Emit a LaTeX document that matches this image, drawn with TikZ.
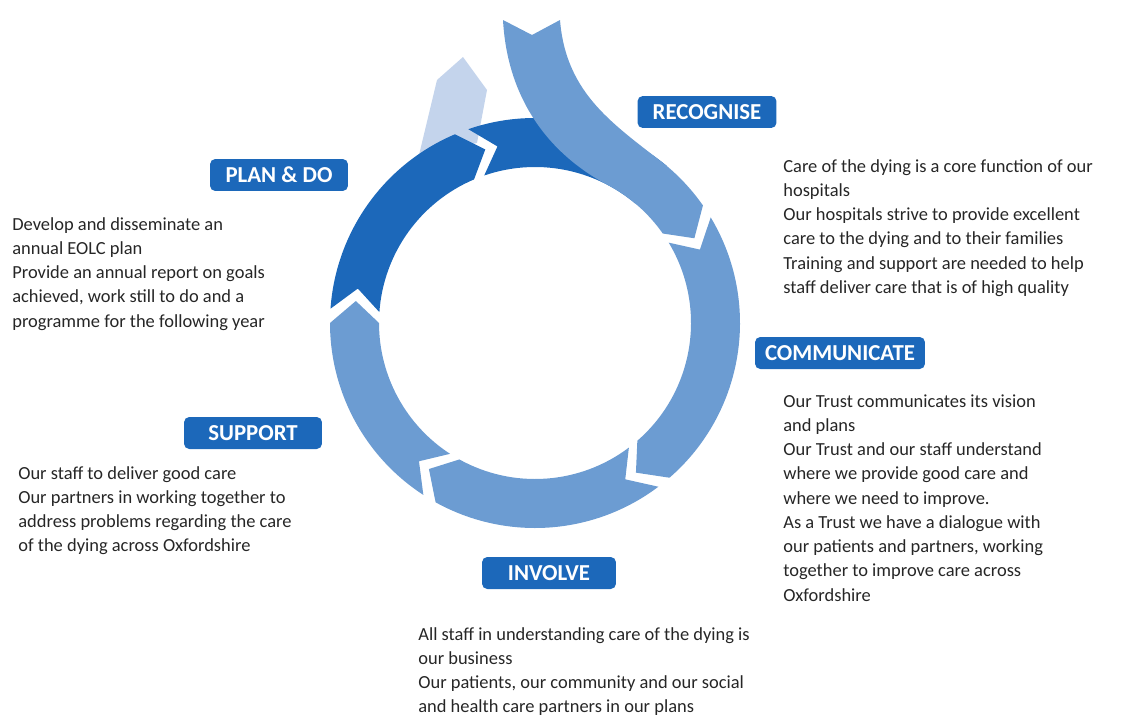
\documentclass[tikz,border=0pt]{standalone}
\usepackage{fontspec}
\setmainfont{Carlito}
\definecolor{darkb}{RGB}{28,104,186}
\definecolor{midb}{RGB}{108,156,210}
\definecolor{paleb}{RGB}{196,212,236}
\tikzset{
  lbl/.style={fill=darkb,rounded corners=3pt,text=white,inner sep=0pt,
    minimum height=0.64cm,font=\bfseries\fontsize{13}{15}\selectfont},
  txt/.style={anchor=north west,align=left,inner sep=0pt,text=black!85,
    font=\fontsize{10.5}{13.8}\selectfont}
}
\begin{document}
\begin{tikzpicture}[x=0.02cm,y=0.02cm,line join=round]
	\useasboundingbox (0,0) rectangle (1123,-720);
	\def\rin{156}
	\def\rout{205}
	\def\rmid{180.5}
	\def\dd{7}
	\newcommand\ringseg[3]{\fill[#3] (#1:\rin)
		arc[start angle=#1,end angle=#2,radius=\rin] --
		({#2-\dd}:\rmid) -- (#2:\rout)
		arc[start angle=#2,end angle=#1,radius=\rout] --
		({#1-\dd}:\rmid) -- cycle;}
	\begin{scope}[shift={(535,-323)}]
		\fill[paleb] (-116,168) -- (-98,243) -- (-72,266)
		-- (-48,233) -- (-58,180) -- cycle;
		\ringseg{109}{50}{darkb}
		\ringseg{176}{113}{darkb}
		\ringseg{31}{-49}{midb}
		\ringseg{-53}{-119}{midb}
		\ringseg{-123}{-180}{midb}
		\fill[midb] (-32,303) -- (-3,288) -- (25,303)
		.. controls (31,228) and (80,198) .. (50:\rout)
		arc[start angle=50,end angle=35,radius=\rout] --
		({35-\dd}:\rmid) -- (35:\rin)
		arc[start angle=35,end angle=62,radius=\rin]
		.. controls (25,163) and (-27,213) .. (-32,303) -- cycle;
	\end{scope}
	\node[lbl,minimum width=2.78cm] (recognise) at (707,-112) {RECOGNISE};
	\node[lbl,minimum width=2.76cm] (plando) at (279,-175) {PLAN \& DO};
	\node[lbl,minimum width=3.4cm] (communicate) at (840,-353) {COMMUNICATE};
	\node[lbl,minimum width=2.76cm] (support) at (253,-433) {SUPPORT};
	\node[lbl,minimum width=2.68cm] (involve) at (549,-573) {INVOLVE};
	\node[txt] (recognisetxt) at (783,-159) {Care of the dying is a core function of our\\
		hospitals\\ Our hospitals strive to provide excellent\\
		care to the dying and to their families\\
		Training and support are needed to help\\
		staff deliver care that is of high quality};
	\node[txt] (communicatetxt) at (783,-394) {Our Trust communicates its vision\\
		and plans\\ Our Trust and our staff understand\\
		where we provide good care and\\ where we need to improve.\\
		As a Trust we have a dialogue with\\
		our patients and partners, working\\
		together to improve care across\\ Oxfordshire};
	\node[txt] (plantxt) at (12,-217) {Develop and disseminate an\\
		annual EOLC plan\\ Provide an annual report on goals\\
		achieved, work still to do and a\\
		programme for the following year};
	\node[txt] (supporttxt) at (18,-466) {Our staff to deliver good care\\
		Our partners in working together to\\
		address problems regarding the care\\
		of the dying across Oxfordshire};
	\node[txt] (involvetxt) at (418,-627) {All staff in understanding care of the dying is\\
		our business\\ Our patients, our community and our social\\
		and health care partners in our plans};
\end{tikzpicture}
\end{document}
